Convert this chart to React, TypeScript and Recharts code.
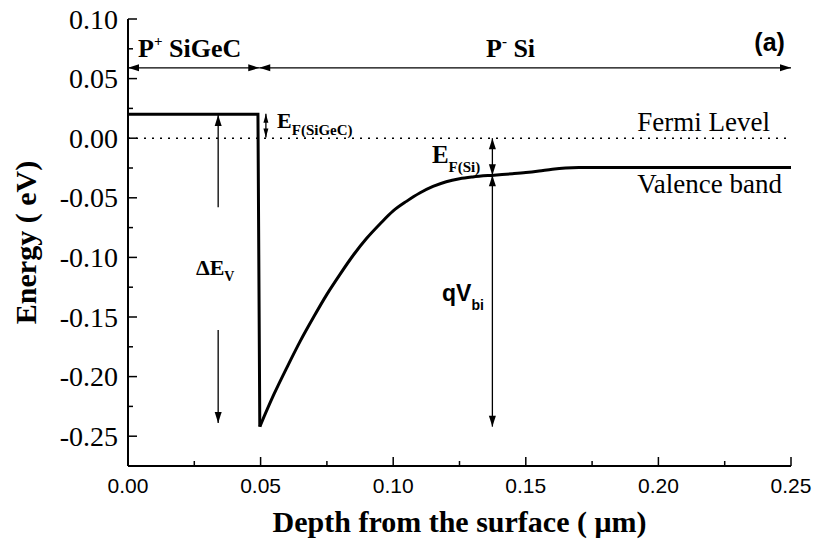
import React from 'react';
import { LineChart, Line, XAxis, YAxis, ReferenceLine, ReferenceDot, Label } from 'recharts';

// Valence-band edge versus depth (µm, eV): flat SiGeC layer, then the abrupt offset
const stepDepth = [0, 0.049, 0.0497];
const stepEnergy = [0.02, 0.02, -0.242];

// Band bending across the Si side, back up to the bulk level
const bendDepth = [
  0.0497, 0.055, 0.06, 0.065, 0.07, 0.075, 0.08, 0.085, 0.09, 0.095, 0.1, 0.105,
  0.11, 0.115, 0.12, 0.125, 0.13, 0.138, 0.145, 0.15, 0.155, 0.16, 0.165, 0.17, 0.25,
];
const bendEnergy = [
  -0.242, -0.215, -0.192, -0.17, -0.15, -0.131, -0.114, -0.098, -0.084, -0.072, -0.061, -0.053,
  -0.046, -0.0405, -0.0365, -0.034, -0.0325, -0.031, -0.0298, -0.0288, -0.0275, -0.026, -0.025, -0.0246, -0.0245,
];

const xTicks = [0, 0.025, 0.05, 0.075, 0.1, 0.125, 0.15, 0.175, 0.2, 0.225, 0.25];
const yTicks = [
  -0.25, -0.225, -0.2, -0.175, -0.15, -0.125, -0.1, -0.075, -0.05, -0.025, 0, 0.025, 0.05, 0.075, 0.1,
];

const fermiLevel = 0;

const stepData = stepDepth.map((x, i) => ({ x, y: stepEnergy[i] }));
const bendData = bendDepth.map((x, i) => ({ x, y: bendEnergy[i] }));

const SERIF = '"Liberation Serif", "Times New Roman", serif';
const SANS = '"Liberation Sans", Arial, sans-serif';

type Heads = 'start' | 'end' | 'both';

// Dimension arrows, in data coordinates
const arrows: { x1: number; y1: number; x2: number; y2: number; heads: Heads; len: number; half: number }[] = [
  { x1: 0, y1: 0.059, x2: 0.0495, y2: 0.059, heads: 'both', len: 11, half: 3.5 },
  { x1: 0.0495, y1: 0.059, x2: 0.25, y2: 0.059, heads: 'both', len: 11, half: 3.5 },
  { x1: 0.052, y1: 0.0205, x2: 0.052, y2: 0.0005, heads: 'both', len: 9, half: 2.5 },
  { x1: 0.034, y1: -0.058, x2: 0.034, y2: 0.0195, heads: 'end', len: 11, half: 3.5 },
  { x1: 0.034, y1: -0.161, x2: 0.034, y2: -0.239, heads: 'end', len: 11, half: 3.5 },
  { x1: 0.1374, y1: 0, x2: 0.1374, y2: -0.031, heads: 'both', len: 11, half: 3.5 },
  { x1: 0.1374, y1: -0.031, x2: 0.1374, y2: -0.242, heads: 'both', len: 11, half: 3.5 },
];

const isMajor = (v: number) => Math.abs(v / 0.05 - Math.round(v / 0.05)) < 1e-6;

function LeftTick({ x, y, payload }: any) {
  const v = payload.value as number;
  const major = isMajor(v);
  return (
    <g>
      <line x1={x + 10} x2={x + 10 + (major ? 9 : 5)} y1={y} y2={y} stroke="#000" strokeWidth={1.5} />
      {major && (
        <text x={x} y={y} dy={9.5} textAnchor="end" fontFamily={SERIF} fontSize={28} fill="#000">
          {v.toFixed(2)}
        </text>
      )}
    </g>
  );
}

function RightTick({ x, y, payload }: any) {
  const major = isMajor(payload.value);
  return <line x1={x - (major ? 8 : 6)} x2={x} y1={y} y2={y} stroke="#000" strokeWidth={1.5} />;
}

function BottomTick({ x, y, payload }: any) {
  const v = payload.value as number;
  const major = isMajor(v);
  return (
    <g>
      <line x1={x} x2={x} y1={y} y2={y - (major ? 9 : 5)} stroke="#000" strokeWidth={1.5} />
      {major && (
        <text x={x} y={y + 27} textAnchor="middle" fontFamily={SANS} fontSize={21} fill="#000">
          {v.toFixed(2)}
        </text>
      )}
    </g>
  );
}

function arrowShape(heads: Heads, len: number, half: number) {
  return (p: any) => {
    const { x1, y1, x2, y2 } = p;
    const dx = x2 - x1;
    const dy = y2 - y1;
    const L = Math.hypot(dx, dy) || 1;
    const ux = dx / L;
    const uy = dy / L;
    const nx = -uy;
    const ny = ux;
    const head = (tx: number, ty: number, ex: number, ey: number) =>
      `${tx},${ty} ${tx - ex * len + nx * half},${ty - ey * len + ny * half} ${tx - ex * len - nx * half},${ty - ey * len - ny * half}`;
    return (
      <g>
        <line x1={x1} y1={y1} x2={x2} y2={y2} stroke="#000" strokeWidth={1.3} />
        {(heads === 'end' || heads === 'both') && <polygon points={head(x2, y2, ux, uy)} fill="#000" />}
        {(heads === 'start' || heads === 'both') && <polygon points={head(x1, y1, -ux, -uy)} fill="#000" />}
      </g>
    );
  };
}

type Part = { t: string; size: number; dy?: number };
type Note = { x: number; y: number; anchor: 'start' | 'end'; font: string; bold: boolean; parts: Part[] };

const notes: Note[] = [
  { x: 0.0038, y: 0.0681, anchor: 'start', font: SERIF, bold: true,
    parts: [{ t: 'P', size: 26 }, { t: '+', size: 15, dy: -11 }, { t: ' SiGeC', size: 26, dy: 11 }] },
  { x: 0.135, y: 0.0681, anchor: 'start', font: SERIF, bold: true,
    parts: [{ t: 'P', size: 26 }, { t: '-', size: 15, dy: -11 }, { t: ' Si', size: 26, dy: 11 }] },
  { x: 0.2477, y: 0.0732, anchor: 'end', font: SANS, bold: true, parts: [{ t: '(a)', size: 25 }] },
  { x: 0.0562, y: 0.0086, anchor: 'start', font: SERIF, bold: true,
    parts: [{ t: 'E', size: 22 }, { t: 'F(SiGeC)', size: 15, dy: 7 }] },
  { x: 0.2421, y: 0.006, anchor: 'end', font: SERIF, bold: false, parts: [{ t: 'Fermi Level', size: 27 }] },
  { x: 0.2466, y: -0.046, anchor: 'end', font: SERIF, bold: false, parts: [{ t: 'Valence band', size: 27 }] },
  { x: 0.1146, y: -0.0208, anchor: 'start', font: SERIF, bold: true,
    parts: [{ t: 'E', size: 25 }, { t: 'F(Si)', size: 15, dy: 9 }] },
  { x: 0.0256, y: -0.1148, anchor: 'start', font: SERIF, bold: true,
    parts: [{ t: 'ΔE', size: 22 }, { t: 'V', size: 14, dy: 6 }] },
  { x: 0.1184, y: -0.1366, anchor: 'start', font: SANS, bold: true,
    parts: [{ t: 'qV', size: 23 }, { t: 'bi', size: 14, dy: 9 }] },
];

function noteShape(n: Note) {
  return (p: any) => (
    <text x={p.cx} y={p.cy} textAnchor={n.anchor} fontFamily={n.font} fontWeight={n.bold ? 700 : 400} fill="#000">
      {n.parts.map((s, i) => (
        <tspan key={i} fontSize={s.size} dy={s.dy ?? 0}>
          {s.t}
        </tspan>
      ))}
    </text>
  );
}

const axisLine = { stroke: '#000', strokeWidth: 2 };

export default function App() {
  return (
    <div style={{ position: 'absolute', left: 0, top: 0, width: 817, height: 543, background: '#fff' }}>
      <LineChart width={817} height={543} margin={{ top: 19, right: 26, bottom: 0, left: 0 }}>
        <XAxis
          dataKey="x"
          type="number"
          domain={[0, 0.25]}
          allowDataOverflow
          ticks={xTicks}
          interval={0}
          tickLine={false}
          tickSize={0}
          tickMargin={0}
          tick={<BottomTick />}
          axisLine={axisLine}
          height={77}
        >
          <Label
            content={(props: any) => {
              const vb = props.viewBox;
              return (
                <text x={vb.x + vb.width / 2} y={vb.y + 66} textAnchor="middle" fontFamily={SERIF} fontWeight={700} fontSize={30} fill="#000">
                  Depth from the surface ( μm)
                </text>
              );
            }}
          />
        </XAxis>
        <XAxis xAxisId="top" orientation="top" type="number" domain={[0, 0.25]} height={0} tick={false} tickLine={false} axisLine={axisLine} />
        <YAxis
          type="number"
          domain={[-0.275, 0.1]}
          allowDataOverflow
          ticks={yTicks}
          interval={0}
          tickLine={false}
          tickSize={0}
          tickMargin={10}
          tick={<LeftTick />}
          axisLine={axisLine}
          width={128}
        >
          <Label
            content={(props: any) => {
              const vb = props.viewBox;
              const cy = vb.y + vb.height / 2;
              return (
                <text x={36} y={cy} transform={`rotate(-90 36 ${cy})`} textAnchor="middle" fontFamily={SERIF} fontWeight={700} fontSize={30} fill="#000">
                  Energy ( eV)
                </text>
              );
            }}
          />
        </YAxis>
        <YAxis
          yAxisId="right"
          orientation="right"
          type="number"
          domain={[-0.275, 0.1]}
          allowDataOverflow
          ticks={yTicks}
          interval={0}
          tickLine={false}
          tickSize={0}
          tickMargin={0}
          tick={<RightTick />}
          axisLine={axisLine}
          width={0}
        />
        <ReferenceLine y={fermiLevel} stroke="#000" strokeWidth={1.5} strokeDasharray="2 6" ifOverflow="visible" />
        {arrows.map((a, i) => (
          <ReferenceLine
            key={`a${i}`}
            segment={[{ x: a.x1, y: a.y1 }, { x: a.x2, y: a.y2 }]}
            ifOverflow="visible"
            shape={arrowShape(a.heads, a.len, a.half)}
          />
        ))}
        <Line
          data={stepData}
          dataKey="y"
          type="linear"
          stroke="#000"
          strokeWidth={3}
          dot={false}
          activeDot={false}
          isAnimationActive={false}
        />
        <Line
          data={bendData}
          dataKey="y"
          type="monotone"
          stroke="#000"
          strokeWidth={3}
          dot={false}
          activeDot={false}
          isAnimationActive={false}
        />
        {notes.map((n, i) => (
          <ReferenceDot key={`n${i}`} x={n.x} y={n.y} r={0} ifOverflow="visible" shape={noteShape(n)} />
        ))}
      </LineChart>
    </div>
  );
}
